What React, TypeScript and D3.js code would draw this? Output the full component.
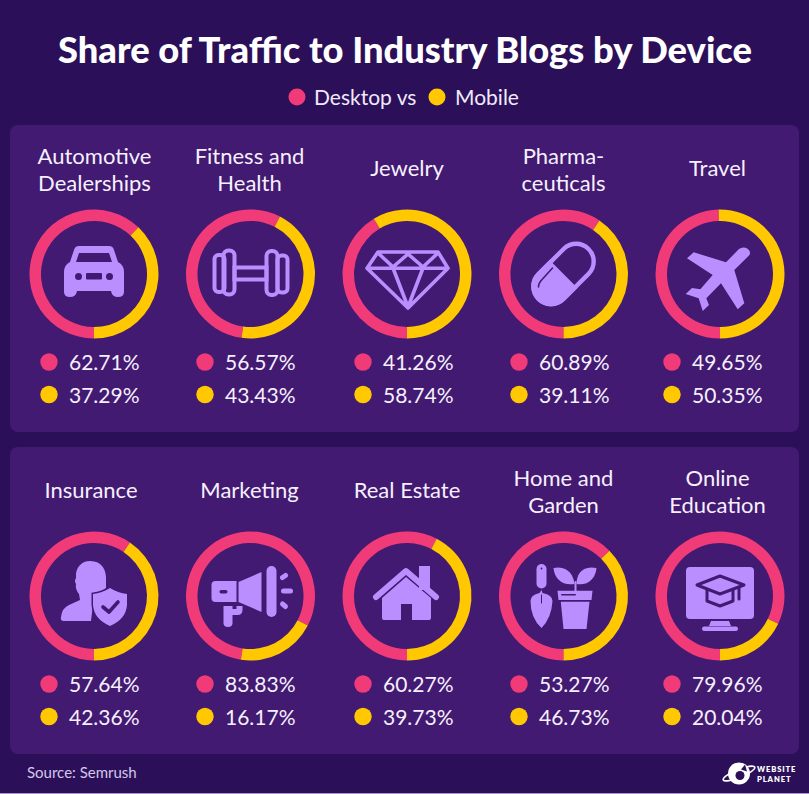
import { useEffect, useRef } from 'react';
import * as d3 from 'd3';

const W = 809;
const H = 794;

const BG = '#2b1059';
const PANEL = '#421a72';
const PINK = '#f03b78';
const YELLOW = '#ffc800';
const ICON = '#bb8eff';

const labelsTop = [['Automotive', 'Dealerships'], ['Fitness and', 'Health'], ['Jewelry'], ['Pharma-', 'ceuticals'], ['Travel']];
const labelsBottom = [['Insurance'], ['Marketing'], ['Real Estate'], ['Home and', 'Garden'], ['Online', 'Education']];
const desktopTop = [62.71, 56.57, 41.26, 60.89, 49.65];
const mobileTop = [37.29, 43.43, 58.74, 39.11, 50.35];
const desktopBottom = [57.64, 83.83, 60.27, 53.27, 79.96];
const mobileBottom = [42.36, 16.17, 39.73, 46.73, 20.04];
const iconsTop = ['car', 'dumbbell', 'diamond', 'pill', 'plane'];
const iconsBottom = ['insurance', 'megaphone', 'house', 'garden', 'education'];

// the rings in the source don't follow the printed percentages exactly,
// so these are the pink shares as measured off the rings themselves
const ringPinkTop = [62.1, 55.3, 41.4, 59.4, 49.65];
const ringPinkBottom = [59.4, 80.2, 57.6, 62.6, 82.1];
// two rings start a little past the bottom (degrees)
const ringTurnTop = [0, 8, 0, 0, 0];
const ringTurnBottom = [0, 8.6, 0, 0, 0];
// label centres drift a bit from the ring centres
const labelXTop = [94.5, 249.5, 407, 563.5, 717.5];
const labelXBottom = [91, 249.5, 407, 563.5, 717.5];

// icons are drawn around the ring centre, ~70px box
const drawIcon = (g: any, name: string) => {
  const fill = (d: string, c = ICON) => g.append('path').attr('d', d).attr('fill', c);
  const line = (d: string, c = ICON, w = 3) =>
    g.append('path').attr('d', d).attr('fill', 'none').attr('stroke', c).attr('stroke-width', w)
      .attr('stroke-linejoin', 'round').attr('stroke-linecap', 'round');
  const rrect = (x: number, y: number, w: number, h: number, r: number, c = ICON) =>
    g.append('rect').attr('x', x).attr('y', y).attr('width', w).attr('height', h).attr('rx', r).attr('fill', c);
  const dot = (x: number, y: number, r: number, c = ICON) =>
    g.append('circle').attr('cx', x).attr('cy', y).attr('r', r).attr('fill', c);

  if (name === 'car') {
    fill('M-15,-28 L15,-28 Q19,-28 20,-24 L24,-12 Q30,-9 30,-2 L30,18 Q30,23 24,23 Q18,23 17,17 L-17,17 Q-18,23 -24,23 Q-30,23 -30,18 L-30,-2 Q-30,-9 -24,-12 L-20,-24 Q-19,-28 -15,-28 Z');
    fill('M-15,-21 L15,-21 L18,-12 L-18,-12 Z', PANEL);
    dot(-15.5, 2.5, 3.5, PANEL);
    dot(15.5, 2.5, 3.5, PANEL);
    rrect(-8, -1, 16, 6.5, 1, PANEL);
  } else if (name === 'dumbbell') {
    const box = (x: number, y: number, w: number, h: number, r: number) =>
      g.append('rect').attr('x', x).attr('y', y).attr('width', w).attr('height', h).attr('rx', r)
        .attr('fill', 'none').attr('stroke', ICON).attr('stroke-width', 4);
    box(-36, -19, 10, 37, 4);
    box(-27, -23.5, 11, 44, 5);
    box(27, -18.5, 10, 37, 4);
    box(16, -23, 11, 44, 5);
    box(-16, -6.5, 32, 12, 0);
  } else if (name === 'diamond') {
    line('M-29,-22 L31,-22 L41,-5.7 L1,34 L-40,-5.7 Z M-40,-5.7 L41,-5.7 M-29,-21 L-14,-7 L1,-20 L16,-7 L31,-21 M-14,-6 L1,33 L16,-6', ICON, 3.6);
  } else if (name === 'pill') {
    const p = g.append('g').attr('transform', 'rotate(-45)');
    p.append('rect').attr('x', -35.4).attr('y', -17.6).attr('width', 70.8).attr('height', 35.2).attr('rx', 17.6)
      .attr('fill', 'none').attr('stroke', ICON).attr('stroke-width', 4.4);
    p.append('path').attr('d', 'M0,-19.8 L-17.6,-19.8 A19.8,19.8 0 0 0 -17.6,19.8 L0,19.8 Z').attr('fill', ICON);
    line('M-11,-6 L-21,5 Q-25,9 -25,13', PANEL, 1.6);
  } else if (name === 'plane') {
    fill('M18.7,-24.7 Q23,-28 28,-25 Q32,-21 28.5,-18 L14.3,-4 L24.3,29.3 L17.7,35.3 L1,9.3 L-13.7,24.3 L-11,31 L-17.3,37 L-21.3,24.3 L-34.3,20 L-28,14 L-19.7,15.3 L-7.3,1 L-33,-15.7 L-26.3,-21.7 L6,-11.7 Z');
  } else if (name === 'insurance') {
    fill('M-4,-35 C8,-35 13,-26 12,-14 L12,-8 L0,0 L-3,25 L-30,25 Q-34,25 -33,21 Q-32,12 -25,9 L-14,4 L-15,-2 Q-19,-7 -18,-12 Q-20,-15 -18,-18 C-19,-29 -12,-35 -4,-35 Z');
    g.append('path').attr('d', 'M16,-8 Q24,-3 33,-2 L33,9 Q32,23 16,30 Q0,23 -1,9 L-1,-2 Q8,-3 16,-8 Z')
      .attr('fill', ICON).attr('stroke', PANEL).attr('stroke-width', 3).attr('paint-order', 'stroke');
    line('M9,11 L15,16 L24,6', PANEL, 3.6);
  } else if (name === 'megaphone') {
    fill('M-35,-15 L-14,-15 L-14,6 L-35,6 Q-39,6 -39,2 L-39,-11 Q-39,-15 -35,-15 Z');
    rrect(-31, -6, 8, 3.4, 1.7, PANEL);
    fill('M-12,-14 L11,-24 L11,16 L-12,6 Z');
    rrect(16, -30, 10, 51, 5);
    fill('M-27,10 L-18,10 L-18,13 L-14,13 L-14,10 L-8,10 L-8,14 Q-8,19 -13,19 L-18,19 L-18,27 Q-18,31 -22.5,31 Q-27,31 -27,27 Z');
    line('M33,-5 L40,-5', ICON, 5);
    line('M32,-18.5 L35,-20.5', ICON, 5);
    line('M32,8 L35,10.5', ICON, 5);
  } else if (name === 'house') {
    line('M-31,1 L-1,-25 L29,1', ICON, 6);
    rrect(12, -30, 11, 24, 0);
    fill('M-1,-19 L24,2 L24,22 Q24,24 22,24 L5,24 L5,8 L-6,8 L-6,24 L-23,24 Q-25,24 -25,22 L-25,2 Z');
  } else if (name === 'garden') {
    rrect(-27, -32, 10, 24.5, 5);
    dot(-22, -27.5, 0.9, PANEL);
    fill('M-22,-6 L-21,-3 Q-11,-1 -11,5 Q-12,22 -22,32 Q-33,22 -33,5 Q-33,-1 -24,-3 Z');
    line('M-22,-1 L-22,7', PANEL, 1);
    fill('M-10,-28 C4,-31 10,-21 11,-12 C-1,-10 -9,-17 -10,-28 Z');
    fill('M33,-28 C18,-31 13,-21 13,-12 C24,-10 32,-17 33,-28 Z');
    line('M12,-14 L12,-5', ICON, 2);
    fill('M-6,-5.3 L29,-5.3 L28,4 L-5,4 Z');
    rrect(-2.5, -2, 15, 1.6, 0.8, PANEL);
    fill('M-2.7,5.7 L26,5.7 L23,33 L0,33 Z');
  } else if (name === 'education') {
    rrect(-34, -29, 68, 52, 4);
    fill('M-9,25 L9,25 L11,30 L-11,30 Z');
    rrect(-18, 30.5, 36, 4.5, 2.2);
    line('M-13,-7 L-13,5 L0,10 L13,5 L13,-7', PANEL, 3);
    g.append('path').attr('d', 'M-23,-11 L0,-20 L24,-11 L0,-2 Z').attr('fill', ICON)
      .attr('stroke', PANEL).attr('stroke-width', 3).attr('stroke-linejoin', 'round');
    line('M19,-9 L19,3', PANEL, 3);
  }
};

const App = () => {
  const svgRef = useRef<SVGSVGElement>(null);

  useEffect(() => {
    const svg = d3.select(svgRef.current);
    svg.selectAll('*').remove();
    const font = 'Lato, sans-serif';

    svg.append('rect').attr('width', W).attr('height', H).attr('fill', BG);
    // thin light strip along the bottom edge of the source
    svg.append('rect').attr('y', H - 1).attr('width', W).attr('height', 1).attr('fill', '#a898c6');

    svg.append('text').attr('x', 405).attr('y', 63).attr('text-anchor', 'middle')
      .attr('font-family', font).attr('font-weight', 900).attr('font-size', 36.3)
      .attr('fill', '#fff').text('Share of Traffic to Industry Blogs by Device');

    // legend
    svg.append('circle').attr('cx', 297).attr('cy', 97).attr('r', 8.5).attr('fill', PINK);
    svg.append('circle').attr('cx', 437).attr('cy', 97).attr('r', 8.5).attr('fill', YELLOW);
    svg.append('text').attr('x', 314).attr('y', 105).attr('font-family', font).attr('font-size', 21)
      .attr('fill', '#f1e9fb').text('Desktop vs');
    svg.append('text').attr('x', 455).attr('y', 105).attr('font-family', font).attr('font-size', 21)
      .attr('fill', '#f1e9fb').text('Mobile');

    const x = d3.scalePoint<number>().domain(d3.range(5)).range([94, 720]);
    const valueOffset = [-45, -45.5, -44, -44.5, -48];

    const pie = d3.pie<number>().sort(null).startAngle(Math.PI).endAngle(3 * Math.PI);
    const arc = d3.arc<any>().innerRadius(53).outerRadius(64.5);
    const color = d3.scaleOrdinal<number, string>().domain([0, 1]).range([PINK, YELLOW]);

    const drawPanel = (
      top: number,
      labels: string[][],
      labelX: number[],
      desktop: number[],
      mobile: number[],
      ringPink: number[],
      ringTurn: number[],
      icons: string[],
    ) => {
      svg.append('rect').attr('x', 10).attr('y', top).attr('width', 789).attr('height', 307)
        .attr('rx', 8).attr('fill', PANEL);

      labels.forEach((lines, i) => {
        const cx = x(i) as number;
        const cell = svg.append('g');

        const firstY = lines.length === 1 ? top + 51 : top + 39;
        lines.forEach((t, k) => {
          cell.append('text').attr('x', labelX[i]).attr('y', firstY + k * 27).attr('text-anchor', 'middle')
            .attr('font-family', font).attr('font-size', 22).attr('fill', '#f6f0fd').text(t);
        });

        const ring = cell.append('g').attr('transform', `translate(${cx},${top + 149})`);
        ring.append('g').attr('transform', `rotate(${ringTurn[i]})`)
          .selectAll('path').data(pie([ringPink[i], 100 - ringPink[i]])).enter().append('path')
          .attr('d', arc).attr('fill', (_, k) => color(k));
        drawIcon(ring.append('g'), icons[i]);

        [desktop[i], mobile[i]].forEach((v, k) => {
          const vy = top + 237 + k * 32.5;
          cell.append('circle').attr('cx', cx + valueOffset[i]).attr('cy', vy).attr('r', 8.7).attr('fill', color(k));
          cell.append('text').attr('x', cx + valueOffset[i] + 20).attr('y', vy + 8)
            .attr('font-family', font).attr('font-size', 21).attr('fill', '#f6f0fd').text(`${v.toFixed(2)}%`);
        });
      });
    };

    drawPanel(125, labelsTop, labelXTop, desktopTop, mobileTop, ringPinkTop, ringTurnTop, iconsTop);
    drawPanel(447, labelsBottom, labelXBottom, desktopBottom, mobileBottom, ringPinkBottom, ringTurnBottom, iconsBottom);

    svg.append('text').attr('x', 27).attr('y', 778).attr('font-family', font).attr('font-size', 15)
      .attr('fill', '#d5c6ea').text('Source: Semrush');

    // logo
    const logo = svg.append('g').attr('transform', 'translate(739,773.5)');
    logo.append('circle').attr('r', 11).attr('fill', '#fff');
    logo.append('ellipse').attr('rx', 17).attr('ry', 4).attr('transform', 'rotate(-22)')
      .attr('fill', 'none').attr('stroke', '#fff').attr('stroke-width', 1.6);
    logo.append('circle').attr('cx', 1).attr('cy', 2).attr('r', 4.5).attr('fill', BG);
    logo.append('path').attr('d', 'M2,-4 L6,-9 L8,-2 Z').attr('fill', BG);
    [['WEBSITE', 771.7], ['PLANET', 781.7]].forEach(([t, y]) => {
      svg.append('text').attr('x', 757).attr('y', y as number).attr('font-family', font).attr('font-weight', 800)
        .attr('font-size', 7.6).attr('letter-spacing', 0.9).attr('fill', '#fff').text(t as string);
    });
  }, []);

  return (
    <svg ref={svgRef} width={W} height={H} style={{ position: 'absolute', left: 0, top: 0, display: 'block' }}></svg>
  );
};

export default App;
